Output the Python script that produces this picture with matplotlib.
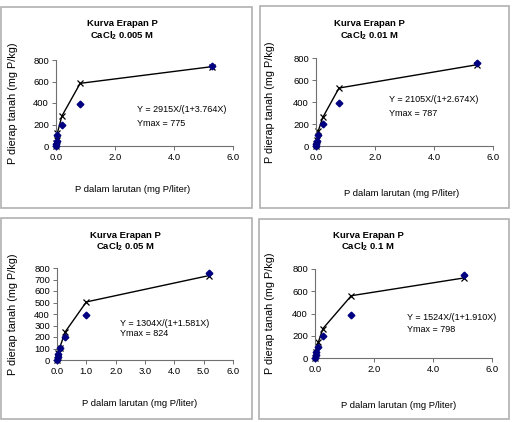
import matplotlib
matplotlib.use('Agg')
import matplotlib.pyplot as plt
from matplotlib.patches import Rectangle

plt.rcParams['font.family'] = ['Liberation Sans', 'DejaVu Sans']
plt.rcParams['mathtext.fontset'] = 'custom'
plt.rcParams['mathtext.rm'] = 'Liberation Sans'
plt.rcParams['mathtext.bf'] = 'Liberation Sans:bold'

W, H = 513, 422

conc = ['0.005', '0.01', '0.05', '0.1']
x_p1 = [0.0, 0.01, 0.02, 0.05, 0.2, 0.82, 5.28]
y_obs_p1 = [0, 20, 45, 100, 198, 394, 748]
y_fit_p1 = [0, 28, 57, 125, 279, 583, 738]

x_p2 = [0.0, 0.01, 0.03, 0.08, 0.23, 0.78, 5.46]
y_obs_p2 = [0, 20, 50, 100, 197, 390, 752]
y_fit_p2 = [0, 21, 58, 139, 260, 527, 739]

x_p3 = [0.0, 0.02, 0.05, 0.09, 0.28, 1.0, 5.18]
y_obs_p3 = [0, 25, 55, 104, 196, 391, 754]
y_fit_p3 = [0, 25, 60, 105, 245, 505, 734]

x_p4 = [0.0, 0.02, 0.04, 0.11, 0.27, 1.23, 5.06]
y_obs_p4 = [0, 25, 55, 100, 195, 388, 750]
y_fit_p4 = [0, 30, 58, 140, 265, 560, 720]

equations = ['Y = 2915X/(1+3.764X)', 'Y = 2105X/(1+2.674X)',
             'Y = 1304X/(1+1.581X)', 'Y = 1524X/(1+1.910X)']
ymax_labels = ['Ymax = 775', 'Ymax = 787', 'Ymax = 824', 'Ymax = 798']

panels = [(x_p1, y_obs_p1, y_fit_p1), (x_p2, y_obs_p2, y_fit_p2),
          (x_p3, y_obs_p3, y_fit_p3), (x_p4, y_obs_p4, y_fit_p4)]

# layout in pixels: frame box, axes (x0, x6, y0, y800), title centre, xlabel, ylabel x, eq text
layout = [
    dict(box=(1, 7, 252, 208), ax=(56, 233, 146, 60), title=(122, 24, 36), xl=(133, 190), yl=13, eq=(137, 110, 123)),
    dict(box=(260, 6, 509, 208), ax=(316, 493, 146, 58), title=(369, 24, 36), xl=(402, 194), yl=270, eq=(389, 100, 113)),
    dict(box=(1, 218, 252, 419), ax=(57, 233, 360, 268), title=(125, 236, 247), xl=(140, 404), yl=13, eq=(120, 323, 334)),
    dict(box=(259, 219, 509, 419), ax=(315, 492, 358, 269), title=(368, 235, 247), xl=(399, 406), yl=270, eq=(407, 317, 329)),
]

fig = plt.figure(figsize=(W / 100, H / 100), dpi=100)
fs = 6.8

for i, ((xs, yo, yf), lay) in enumerate(zip(panels, layout)):
    bx0, by0, bx1, by1 = lay['box']
    fig.patches.append(Rectangle((bx0 / W, 1 - by1 / H), (bx1 - bx0) / W, (by1 - by0) / H,
                                 transform=fig.transFigure, fill=False,
                                 edgecolor='#b0b0b0', lw=1.2))
    ax0, ax1, ay0, ay1 = lay['ax']
    ax = fig.add_axes([ax0 / W, 1 - ay0 / H, (ax1 - ax0) / W, (ay0 - ay1) / H])
    ax.plot(xs, yf, color='black', lw=1.0, marker='x', ms=5, mew=0.9, zorder=2)
    ax.plot(xs, yo, ls='none', marker='D', ms=3.4, color='#000080', zorder=3)
    ax.set_xlim(0, 6)
    ax.set_ylim(0, 800)
    if i == 2:
        ax.set_xticks([0, 1, 2, 3, 4, 5, 6])
        ax.set_yticks(range(0, 801, 100))
    else:
        ax.set_xticks([0, 2, 4, 6])
        ax.set_yticks(range(0, 801, 200))
    ax.set_xticklabels([f'{v:.1f}' for v in ax.get_xticks()], fontsize=fs)
    ax.set_yticklabels([f'{int(v)}' for v in ax.get_yticks()], fontsize=fs)
    for s in ['top', 'right']:
        ax.spines[s].set_visible(False)
    for s in ['left', 'bottom']:
        ax.spines[s].set_color('#707070')
        ax.spines[s].set_linewidth(0.8)
    ax.tick_params(length=3, width=0.7, color='#707070', pad=2)
    ax.patch.set_visible(False)
    for ln in ax.lines:
        ln.set_clip_on(False)

    tx, ty1, ty2 = lay['title']
    fig.text(tx / W, 1 - ty1 / H, 'Kurva Erapan P', ha='center', va='center',
             fontsize=fs, fontweight='bold')
    fig.text(tx / W, 1 - ty2 / H, r'CaCl$_\mathbf{2}$ ' + conc[i] + ' M', ha='center',
             va='center', fontsize=fs, fontweight='bold')
    xlx, xly = lay['xl']
    fig.text(xlx / W, 1 - xly / H, 'P dalam larutan (mg P/liter)', ha='center',
             va='center', fontsize=fs)
    fig.text(lay['yl'] / W, 1 - (ay0 + ay1) / 2 / H, 'P dierap tanah (mg P/kg)',
             ha='center', va='center', rotation=90, fontsize=7.8)
    ex, ey1, ey2 = lay['eq']
    fig.text(ex / W, 1 - ey1 / H, equations[i], ha='left', va='center', fontsize=6.5)
    fig.text(ex / W, 1 - ey2 / H, ymax_labels[i], ha='left', va='center', fontsize=6.5)

fig.savefig('out.png', dpi=100, facecolor='white')
